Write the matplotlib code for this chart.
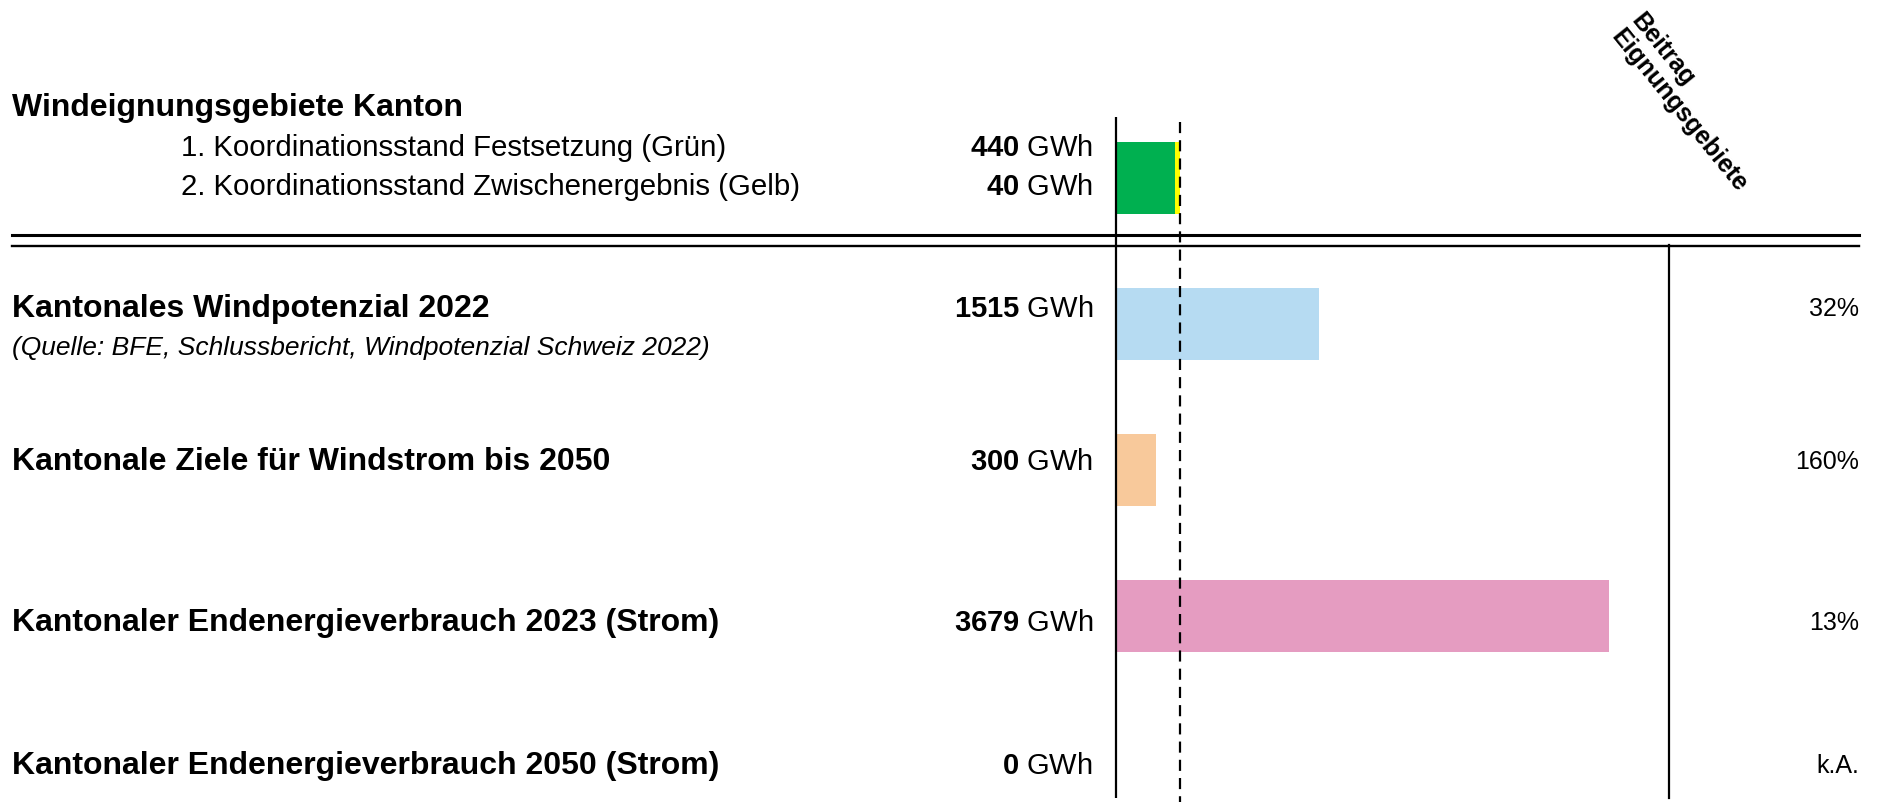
import matplotlib
matplotlib.use('Agg')
import matplotlib.pyplot as plt
import matplotlib.transforms as mtransforms

plt.rcParams['font.family'] = ['Liberation Sans', 'DejaVu Sans']
plt.rcParams['mathtext.fontset'] = 'custom'
plt.rcParams['mathtext.rm'] = 'Liberation Sans'
plt.rcParams['mathtext.bf'] = 'Liberation Sans:bold'

# Windeignungsgebiete (gestapelt)
eignung_titel = 'Windeignungsgebiete Kanton'
eignung_labels = ['1. Koordinationsstand Festsetzung (Grün)',
                  '2. Koordinationsstand Zwischenergebnis (Gelb)']
eignung_gwh = [440, 40]
eignung_farben = ['#00B050', '#FFFF00']

# Vergleichsgroessen
vergleich_labels = ['Kantonales Windpotenzial 2022',
                    'Kantonale Ziele für Windstrom bis 2050',
                    'Kantonaler Endenergieverbrauch 2023 (Strom)',
                    'Kantonaler Endenergieverbrauch 2050 (Strom)']
vergleich_gwh = [1515, 300, 3679, 0]
vergleich_farben = ['#B6DBF2', '#F8C99B', '#E59CC1', '#E59CC1']
quelle = '(Quelle: BFE, Schlussbericht, Windpotenzial Schweiz 2022)'

W, H = 1883, 803
px_pro_gwh = 0.134
x0 = 1115.6          # Lage der Nulllinie in Pixel
zeile0, zeilen_abstand = 179, 146


def ry(py):
    # Pixelhoehe -> Zeilenkoordinate
    return (py - zeile0) / zeilen_abstand


fig = plt.figure(figsize=(W / 100, H / 100), dpi=100)
ax = fig.add_axes([0, 0, 1, 1])
ax.axis('off')
ax.set_xlim(-x0 / px_pro_gwh, (W - x0) / px_pro_gwh)
ax.set_ylim(ry(H), ry(0))
tr = mtransforms.blended_transform_factory(fig.transFigure, ax.transData)

bar_h = 0.49
# gestapelter Balken oben
links = 0
for wert, farbe in zip(eignung_gwh, eignung_farben):
    ax.barh(0, wert, left=links, height=bar_h, color=farbe, linewidth=0)
    links += wert
summe = sum(eignung_gwh)

zeilen = [1, 2, 3, 4]
ax.barh(zeilen, vergleich_gwh, height=bar_h, color=vergleich_farben, linewidth=0)

# Linien
ax.plot([0, 0], [ry(118), ry(799)], color='black', lw=1.6, solid_capstyle='butt')
ax.plot([summe, summe], [ry(123), ry(H)], color='black', lw=1.6,
        dashes=(5.0, 3.2))
ax.plot([12 / W, 1859 / W], [ry(235.5), ry(235.5)], color='black', lw=2.2, transform=tr)
ax.plot([12 / W, 1859 / W], [ry(247), ry(247)], color='black', lw=1.7, transform=tr)
ax.plot([1669 / W, 1669 / W], [ry(246), ry(799)], color='black', lw=1.6, transform=tr)

# Texte oben
ax.text(12 / W, ry(108), eignung_titel, transform=tr, fontsize=23,
        fontweight='bold', va='center', ha='left')
for py, lab, wert in zip([148, 187], eignung_labels, eignung_gwh):
    ax.text(181 / W, ry(py), lab, transform=tr, fontsize=21.2, va='center', ha='left')
    ax.text(1093 / W, ry(py), r'$\mathbf{%d}$ GWh' % wert, transform=tr,
            fontsize=21, va='center', ha='right')

# Texte Vergleich
text_versatz = [-0.11, -0.065, 0.04, 0.02]
for z, lab, wert, dv in zip(zeilen, vergleich_labels, vergleich_gwh, text_versatz):
    y = z + dv
    ax.text(12 / W, y, lab, transform=tr, fontsize=23, fontweight='bold',
            va='center', ha='left')
    ax.text(1093 / W, y, r'$\mathbf{%d}$ GWh' % wert, transform=tr,
            fontsize=21, va='center', ha='right')
    anteil = 'k.A.' if wert == 0 else '%d%%' % round(summe / wert * 100)
    ax.text(1859 / W, y, anteil, transform=tr, fontsize=18, va='center', ha='right')
ax.text(12 / W, 1 + ry(345) - ry(306) - 0.11, quelle, transform=tr, fontsize=19,
        style='italic', va='center', ha='left')

fig.text(1645 / W, 1 - 9 / H, 'Beitrag\nEignungsgebiete', rotation=-51,
         rotation_mode='anchor', ha='left', va='top', fontsize=18,
         fontweight='bold', linespacing=1.1, multialignment='left')

fig.savefig('out.png', dpi=100)
